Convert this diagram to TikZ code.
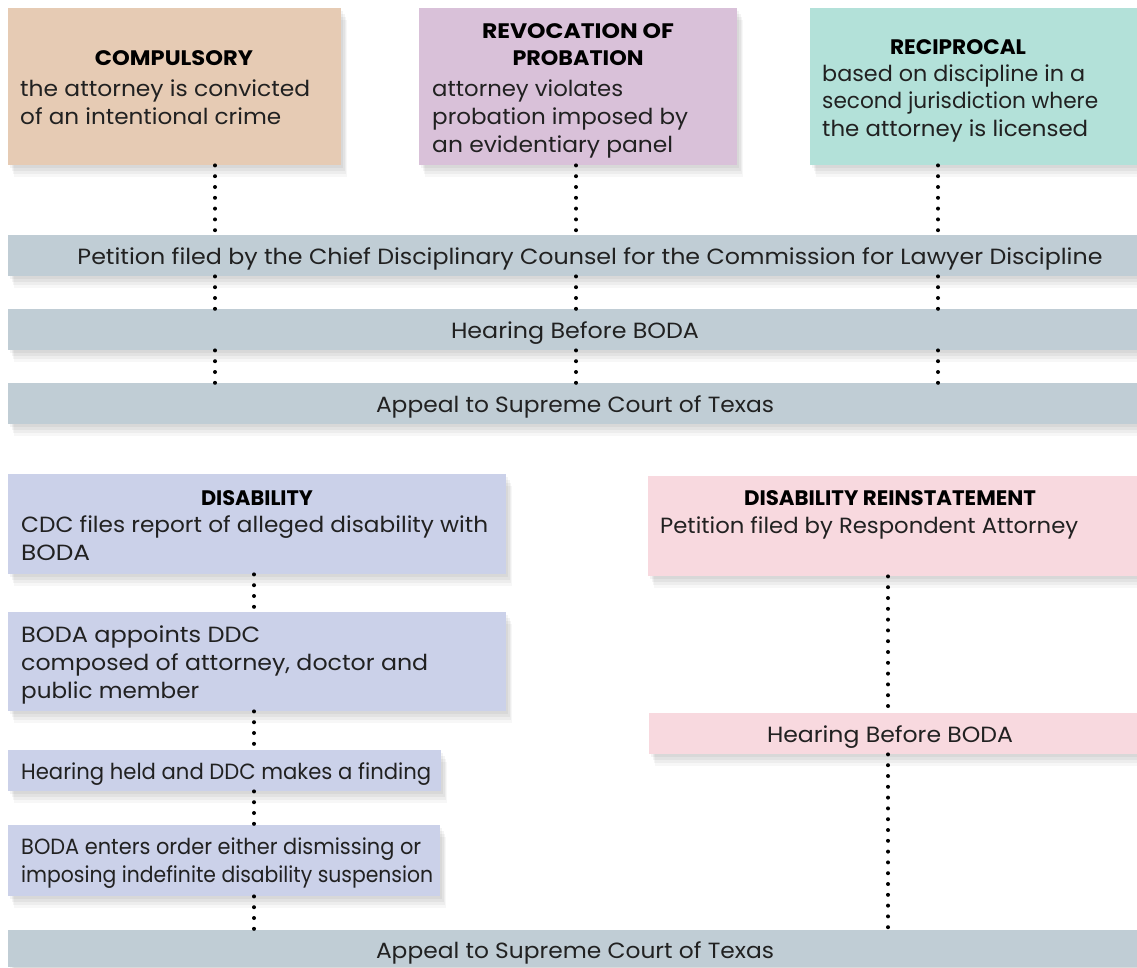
\documentclass[tikz,border=0pt]{standalone}
\usepackage{fontspec}
\usepackage{graphicx}
\setmainfont{Poppins}
\newcommand{\fitw}[2]{\resizebox{#1pt}{\height}{#2}}
\begin{document}
\begin{tikzpicture}[x=1pt,y=-1pt,
  shad/.style={
    preaction={fill=black,opacity=0.045,transform canvas={xshift=2pt,yshift=-3pt}},
    preaction={fill=black,opacity=0.045,transform canvas={xshift=4pt,yshift=-6pt}},
    preaction={fill=black,opacity=0.04,transform canvas={xshift=5pt,yshift=-9pt}},
    preaction={fill=black,opacity=0.03,transform canvas={xshift=6pt,yshift=-12pt}}},
  box/.style={shad,rectangle,inner sep=0pt,anchor=north west,draw=none},
  txt/.style={inner sep=0pt,anchor=base west,font=\fontsize{22}{28}\selectfont,text=black!87},
  ctxt/.style={txt,anchor=base},
  ttl/.style={inner sep=0pt,anchor=base,font=\fontsize{21}{26}\selectfont\bfseries,text=black},
  dots/.style={line width=4pt,line cap=round,dash pattern=on 0pt off 10.8pt,black}]
\definecolor{ctan}{HTML}{E6CBB4}
\definecolor{clav}{HTML}{D9C1D9}
\definecolor{cmint}{HTML}{B3E1D9}
\definecolor{cgray}{HTML}{C0CDD5}
\definecolor{cperi}{HTML}{CBD1E9}
\definecolor{cpink}{HTML}{F8D9DF}
\useasboundingbox[fill=white] (0,0) rectangle (1137,967);

% top boxes
\node[box,fill=ctan,minimum width=333pt,minimum height=157pt] (comp) at (8,8) {};
\node[box,fill=clav,minimum width=318pt,minimum height=157pt] (revo) at (419,8) {};
\node[box,fill=cmint,minimum width=327pt,minimum height=157pt] (reci) at (810,8) {};
\node[box,fill=cgray,minimum width=1129pt,minimum height=41pt] (pet) at (8,235) {};
\node[box,fill=cgray,minimum width=1129pt,minimum height=41pt] (hear) at (8,309) {};
\node[box,fill=cgray,minimum width=1129pt,minimum height=41pt] (app) at (8,383) {};

% lower boxes
\node[box,fill=cperi,minimum width=498pt,minimum height=100pt] (dis) at (8,474) {};
\node[box,fill=cperi,minimum width=498pt,minimum height=99pt] (ddc) at (8,612) {};
\node[box,fill=cperi,minimum width=433pt,minimum height=41pt] (held) at (8,750) {};
\node[box,fill=cperi,minimum width=432pt,minimum height=71pt] (ord) at (8,825) {};
\node[box,fill=cpink,minimum width=489pt,minimum height=100pt] (rein) at (648,476) {};
\node[box,fill=cpink,minimum width=488pt,minimum height=41pt] (hearp) at (649,713) {};
\node[box,fill=cgray,minimum width=1129pt,minimum height=37pt] (app2) at (8,930) {};

% column coordinates
\coordinate (c1) at (215,0);
\coordinate (c2) at (576,0);
\coordinate (c3) at (938,0);
\coordinate (c4) at (254,0);
\coordinate (c5) at (888,0);

% texts top
\node[ttl] at (174,65) {\fitw{158}{COMPULSORY}};
\node[txt] at (20,96) {\fitw{290}{the attorney is convicted}};
\node[txt] at (20,124) {\fitw{261}{of an intentional crime}};

\node[ttl] at (578,38) {\fitw{192}{REVOCATION OF}};
\node[ttl] at (578,65) {\fitw{131}{PROBATION}};
\node[txt] at (432,96) {\fitw{191}{attorney violates}};
\node[txt] at (432,124) {\fitw{256}{probation imposed by}};
\node[txt] at (432,152) {\fitw{241}{an evidentiary panel}};

\node[ttl] at (958,54) {\fitw{136}{RECIPROCAL}};
\node[txt] at (822,81) {\fitw{263}{based on discipline in a}};
\node[txt] at (822,108) {\fitw{276}{second jurisdiction where}};
\node[txt] at (822,136) {\fitw{266}{the attorney is licensed}};

\node[ctxt] at (590,264) {\fitw{1025}{Petition filed by the Chief Disciplinary Counsel for the Commission for Lawyer Discipline}};
\node[ctxt] at (575,338) {\fitw{248}{Hearing Before BODA}};
\node[ctxt] at (575,412) {\fitw{398}{Appeal to Supreme Court of Texas}};

% texts lower
\node[ttl] at (257,505) {\fitw{112}{DISABILITY}};
\node[txt] at (21,532) {\fitw{467}{CDC files report of alleged disability with}};
\node[txt] at (21,560) {\fitw{69}{BODA}};
\node[txt] at (21,642) {\fitw{239}{BODA appoints DDC}};
\node[txt] at (21,670) {\fitw{407}{composed of attorney, doctor and}};
\node[txt] at (21,698) {\fitw{178}{public member}};
\node[txt] at (21,779) {\fitw{410}{Hearing held and DDC makes a finding}};
\node[txt] at (21,854) {\fitw{400}{BODA enters order either dismissing or}};
\node[txt] at (21,882) {\fitw{412}{imposing indefinite disability suspension}};
\node[ctxt] at (575,958) {\fitw{398}{Appeal to Supreme Court of Texas}};

\node[ttl] at (890,505) {\fitw{292}{DISABILITY REINSTATEMENT}};
\node[txt] at (660,533) {\fitw{418}{Petition filed by Respondent Attorney}};
\node[ctxt] at (890,742) {\fitw{246}{Hearing Before BODA}};

% connectors
\draw[dots] (comp.south -| c1) -- (pet.north -| c1);
\draw[dots] (pet.south -| c1) -- (hear.north -| c1);
\draw[dots] (hear.south -| c1) -- (app.north -| c1);
\draw[dots] (revo.south -| c2) -- (pet.north -| c2);
\draw[dots] (pet.south -| c2) -- (hear.north -| c2);
\draw[dots] (hear.south -| c2) -- (app.north -| c2);
\draw[dots] (reci.south -| c3) -- (pet.north -| c3);
\draw[dots] (pet.south -| c3) -- (hear.north -| c3);
\draw[dots] (hear.south -| c3) -- (app.north -| c3);

\draw[dots] (dis.south -| c4) -- (ddc.north -| c4);
\draw[dots] (ddc.south -| c4) -- (held.north -| c4);
\draw[dots] (held.south -| c4) -- (ord.north -| c4);
\draw[dots] (ord.south -| c4) -- (app2.north -| c4);
\draw[dots] (rein.south -| c5) -- (hearp.north -| c5);
\draw[dots] (hearp.south -| c5) -- (app2.north -| c5);
\end{tikzpicture}
\end{document}
